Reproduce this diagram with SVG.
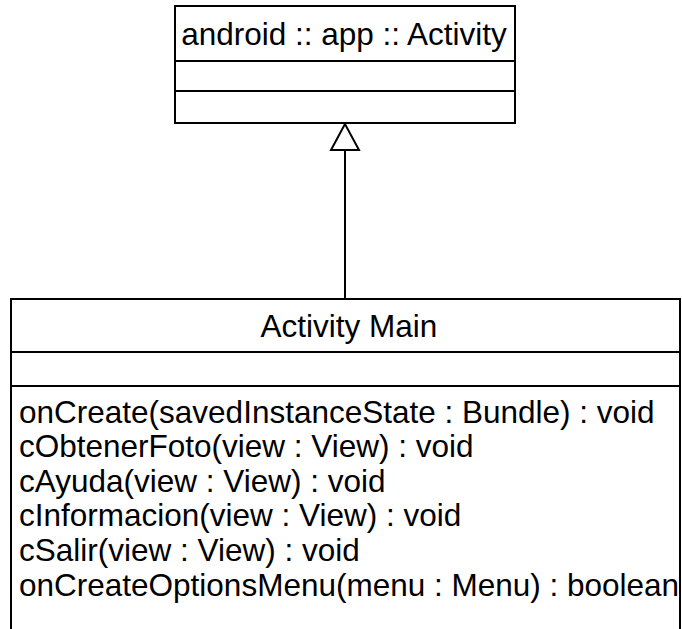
<svg xmlns="http://www.w3.org/2000/svg" width="682" height="629" viewBox="0 0 682 629">
  <style>
    .box { fill: #ffffff; stroke: #000000; stroke-width: 2; }
    .sep { stroke: #000000; stroke-width: 2; }
    .t { font-family: "Liberation Sans", Arial, sans-serif; font-size: 31.5px; fill: #000000; }
  </style>
  <defs>
    <clipPath id="main-clip">
      <rect x="11" y="299" width="669" height="340"/>
    </clipPath>
  </defs>
  <rect width="682" height="629" fill="#ffffff"/>

  <!-- generalization: Activity Main extends android.app.Activity -->
  <g id="edges">
    <line x1="345" y1="150" x2="345" y2="299" stroke="#000" stroke-width="2"/>
    <polygon points="345,124 331,150 359,150" fill="#ffffff" stroke="#000" stroke-width="2"/>
  </g>

  <g id="activity">
    <rect class="box" x="175" y="6" width="340" height="117"/>
    <line class="sep" x1="175" y1="61" x2="515" y2="61"/>
    <line class="sep" x1="175" y1="91" x2="515" y2="91"/>
    <text class="t" x="344" y="45" text-anchor="middle">android :: app :: Activity</text>
  </g>

  <g id="activity-main">
    <rect class="box" x="11" y="299" width="669" height="340"/>
    <line class="sep" x1="11" y1="352" x2="680" y2="352"/>
    <line class="sep" x1="11" y1="386" x2="680" y2="386"/>
    <text class="t" x="349" y="337" text-anchor="middle">Activity Main</text>
    <g clip-path="url(#main-clip)">
      <text class="t" x="19" y="423">onCreate(savedInstanceState : Bundle) : void</text>
      <text class="t" x="19" y="457">cObtenerFoto(view : View) : void</text>
      <text class="t" x="19" y="492">cAyuda(view : View) : void</text>
      <text class="t" x="19" y="526">cInformacion(view : View) : void</text>
      <text class="t" x="19" y="561">cSalir(view : View) : void</text>
      <text class="t" x="19" y="596">onCreateOptionsMenu(menu : Menu) : boolean</text>
    </g>
    <line class="sep" x1="680" y1="299" x2="680" y2="629"/>
  </g>
</svg>
